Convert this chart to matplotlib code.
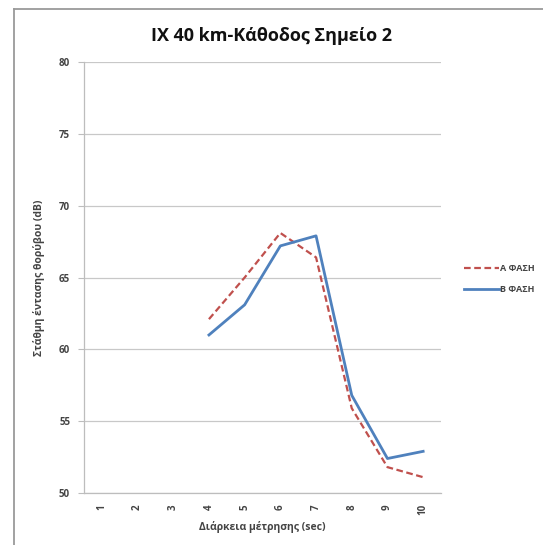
import matplotlib
matplotlib.use("Agg")
import matplotlib.pyplot as plt
from matplotlib.lines import Line2D

plt.rcParams['font.family'] = ['Open Sans', 'DejaVu Sans']

seconds = [1, 2, 3, 4, 5, 6, 7, 8, 9, 10]
phase_a_x = [4, 5, 6, 7, 8, 9, 10]
phase_a = [62.1, 65.0, 68.1, 66.4, 55.9, 51.8, 51.1]
phase_b_x = [4, 5, 6, 7, 8, 9, 10]
phase_b = [61.0, 63.1, 67.2, 67.9, 56.8, 52.4, 52.9]
series_labels = ['Α ΦΑΣΗ', 'Β ΦΑΣΗ']
y_ticks = [50, 55, 60, 65, 70, 75, 80]

fig = plt.figure(figsize=(5.43, 5.45), dpi=100)

# chart-area frame: only its top and left edges fall inside the image
frame_x0, frame_y1 = 13.5 / 543, 1 - 8.5 / 545
fig.lines.append(Line2D([frame_x0, 1.0], [frame_y1, frame_y1],
                        transform=fig.transFigure, color='#9a9a9a', linewidth=1.3))
fig.lines.append(Line2D([frame_x0, frame_x0], [0.0, frame_y1],
                        transform=fig.transFigure, color='#9a9a9a', linewidth=1.3))

ax = fig.add_axes([84 / 543, 1 - 493 / 545, 357 / 543, 431 / 545])

ax.plot(phase_a_x, phase_a, color='#C0504D', linewidth=1.6,
        linestyle=(0, (3, 1.6)), label=series_labels[0])
ax.plot(phase_b_x, phase_b, color='#4F81BD', linewidth=2.0,
        label=series_labels[1])

ax.set_xlim(0.5, 10.5)
ax.set_ylim(50, 80)
ax.set_xticks(seconds)
ax.set_xticklabels([str(s) for s in seconds], rotation=90, fontsize=7,
                   fontweight='bold', color='#444444')
ax.set_yticks(y_ticks)
ax.set_yticklabels([str(v) for v in y_ticks], fontsize=7, fontweight='bold',
                   color='#444444')
ax.tick_params(axis='x', length=0, pad=8)
ax.tick_params(axis='y', length=4, color='#bdbdbd', pad=6)
ax.grid(axis='y', color='#c8c8c8', linewidth=0.9)
ax.set_axisbelow(True)
for side in ('top', 'right'):
    ax.spines[side].set_visible(False)
for side in ('left', 'bottom'):
    ax.spines[side].set_color('#bdbdbd')
    ax.spines[side].set_linewidth(0.9)

fig.text(272 / 543, 1 - 36 / 545, 'IX 40 km-Κάθοδος Σημείο 2', fontsize=13,
         fontweight='bold', color='#111111', ha='center', va='center')
ax.set_xlabel('Διάρκεια μέτρησης (sec)', fontsize=7.5, fontweight='bold',
              color='#444444', labelpad=4)
ax.set_ylabel('Στάθμη έντασης θορύβου (dB)', fontsize=7.5, fontweight='bold',
              color='#444444', labelpad=10)

leg = ax.legend(loc='center left', bbox_to_anchor=(1.055, 0.497), frameon=False,
                fontsize=6.5, handlelength=3.8, handletextpad=0.2,
                labelspacing=1.3, borderaxespad=0)
for t in leg.get_texts():
    t.set_fontweight('bold')
    t.set_color('#444444')

fig.savefig('out.png', dpi=100)
